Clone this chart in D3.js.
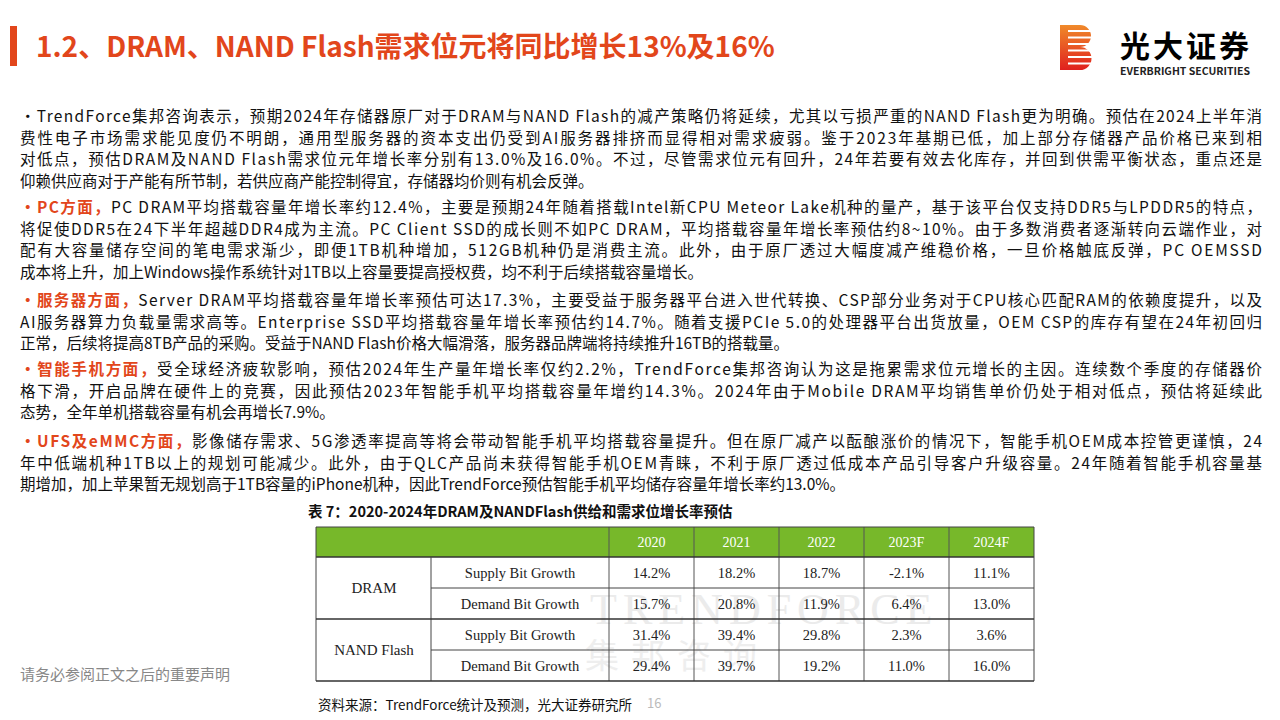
<!DOCTYPE html><html><head><meta charset="utf-8"><script src="https://cdn.jsdelivr.net/npm/d3@7"></script>
<style>body{margin:0;background:#fff}svg{display:block}</style></head><body><svg id="c" width="1280" height="720"></svg>
<script>
const title="1.2、DRAM、NAND Flash需求位元将同比增长13%及16%";
const paragraphs=[
 {head:"", lines:["•TrendForce集邦咨询表示，预期2024年存储器原厂对于DRAM与NAND Flash的减产策略仍将延续，尤其以亏损严重的NAND Flash更为明确。预估在2024上半年消","费性电子市场需求能见度仍不明朗，通用型服务器的资本支出仍受到AI服务器排挤而显得相对需求疲弱。鉴于2023年基期已低，加上部分存储器产品价格已来到相","对低点，预估DRAM及NAND Flash需求位元年增长率分别有13.0%及16.0%。不过，尽管需求位元有回升，24年若要有效去化库存，并回到供需平衡状态，重点还是","仰赖供应商对于产能有所节制，若供应商产能控制得宜，存储器均价则有机会反弹。"]},
 {head:"•PC方面，", lines:["PC DRAM平均搭载容量年增长率约12.4%，主要是预期24年随着搭载Intel新CPU Meteor Lake机种的量产，基于该平台仅支持DDR5与LPDDR5的特点，","将促使DDR5在24下半年超越DDR4成为主流。PC Client SSD的成长则不如PC DRAM，平均搭载容量年增长率预估约8~10%。由于多数消费者逐渐转向云端作业，对","配有大容量储存空间的笔电需求渐少，即便1TB机种增加，512GB机种仍是消费主流。此外，由于原厂透过大幅度减产维稳价格，一旦价格触底反弹，PC OEMSSD","成本将上升，加上Windows操作系统针对1TB以上容量要提高授权费，均不利于后续搭载容量增长。"]},
 {head:"•服务器方面，", lines:["Server DRAM平均搭载容量年增长率预估可达17.3%，主要受益于服务器平台进入世代转换、CSP部分业务对于CPU核心匹配RAM的依赖度提升，以及","AI服务器算力负载量需求高等。Enterprise SSD平均搭载容量年增长率预估约14.7%。随着支援PCIe 5.0的处理器平台出货放量，OEM CSP的库存有望在24年初回归","正常，后续将提高8TB产品的采购。受益于NAND Flash价格大幅滑落，服务器品牌端将持续推升16TB的搭载量。"]},
 {head:"•智能手机方面，", lines:["受全球经济疲软影响，预估2024年生产量年增长率仅约2.2%，TrendForce集邦咨询认为这是拖累需求位元增长的主因。连续数个季度的存储器价","格下滑，开启品牌在硬件上的竞赛，因此预估2023年智能手机平均搭载容量年增约14.3%。2024年由于Mobile DRAM平均销售单价仍处于相对低点，预估将延续此","态势，全年单机搭载容量有机会再增长7.9%。"]},
 {head:"•UFS及eMMC方面，", lines:["影像储存需求、5G渗透率提高等将会带动智能手机平均搭载容量提升。但在原厂减产以酝酿涨价的情况下，智能手机OEM成本控管更谨慎，24","年中低端机种1TB以上的规划可能减少。此外，由于QLC产品尚未获得智能手机OEM青睐，不利于原厂透过低成本产品引导客户升级容量。24年随着智能手机容量基","期增加，加上苹果暂无规划高于1TB容量的iPhone机种，因此TrendForce预估智能手机平均储存容量年增长率约13.0%。"]}
];
const paraStartY=[122,213,306,375,447];
const years=["2020","2021","2022","2023F","2024F"];
const groups=["DRAM","NAND Flash"];
const metrics=["Supply Bit Growth","Demand Bit Growth"];
const dramSupply=["14.2%","18.2%","18.7%","-2.1%","11.1%"];
const dramDemand=["15.7%","20.8%","11.9%","6.4%","13.0%"];
const nandSupply=["31.4%","39.4%","29.8%","2.3%","3.6%"];
const nandDemand=["29.4%","39.7%","19.2%","11.0%","16.0%"];
const rows=[dramSupply,dramDemand,nandSupply,nandDemand];

const svg=d3.select("#c");
const red="#e2461b", sans="'Noto Sans CJK SC','Noto Sans',sans-serif", serif="'Liberation Serif','DejaVu Serif',serif";
svg.append("rect").attr("x",10).attr("y",26).attr("width",7).attr("height",40).attr("fill",red);
svg.append("text").attr("x",36).attr("y",57).attr("font-family",sans).attr("font-weight","bold").attr("font-size",28).attr("fill",red).text(title);
const lg=svg.append("g");
const grad=svg.append("defs").append("linearGradient").attr("id","lgG").attr("x1",0).attr("y1",0).attr("x2",0).attr("y2",1);
grad.append("stop").attr("offset",0).attr("stop-color","#f08a2a");grad.append("stop").attr("offset",1).attr("stop-color","#e0201e");
lg.append("path").attr("d","M1060,25 h20 a10,10 0 0 1 0,22 a10,10 0 0 1 0,23 h-20 z").attr("fill","url(#lgG)");
d3.range(6).forEach(i=>lg.append("rect").attr("x",1068).attr("y",30+i*6.5).attr("width",30).attr("height",2).attr("fill","#fff"));
lg.append("text").attr("x",1120).attr("y",57).attr("font-family",sans).attr("font-weight","bold").attr("font-size",30).attr("letter-spacing",3).text("光大证券");
lg.append("text").attr("x",1120).attr("y",75).attr("font-family",sans).attr("font-size",10.5).attr("font-weight","bold").attr("fill","#222").text("EVERBRIGHT SECURITIES");

const L=20,R=1262,lh=21.6,fs=15.5;
paragraphs.forEach((p,pi)=>{
  p.lines.forEach((ln,li)=>{
    const y=paraStartY[pi]+li*lh;
    const last=li===p.lines.length-1;
    const t=svg.append("text").attr("x",L).attr("y",y).attr("font-family",sans).attr("font-size",fs).attr("fill","#111");
    if(!last) t.attr("textLength",R-L).attr("lengthAdjust","spacing");
    if(li===0&&p.head) t.append("tspan").attr("fill",red).attr("font-weight","bold").text(p.head);
    t.append("tspan").text(ln);
  });
});

svg.append("text").attr("x",308).attr("y",517).attr("font-family",sans).attr("font-weight","bold").attr("font-size",14.5).attr("fill","#111").text("表 7：2020-2024年DRAM及NANDFlash供给和需求位增长率预估");
const x=d3.scaleBand().domain(years).range([609,1034]);
const y=d3.scaleBand().domain(d3.range(4)).range([557,681]);
const T=527;
svg.append("rect").attr("x",316).attr("y",T).attr("width",718).attr("height",30).attr("fill","#77b82a");
svg.append("text").attr("x",590).attr("y",624).attr("font-family",serif).attr("font-size",44).attr("fill","#ebebeb").attr("letter-spacing",6).text("TRENDFORCE");
svg.append("text").attr("x",585).attr("y",668).attr("font-family",sans).attr("font-size",34).attr("fill","#eeeeee").attr("letter-spacing",12).text("集邦咨询");
const ln=(x1,y1,x2,y2,c="#444",w=1)=>svg.append("line").attr("x1",x1).attr("y1",y1).attr("x2",x2).attr("y2",y2).attr("stroke",c).attr("stroke-width",w);
years.forEach(yr=>{
  svg.append("text").attr("x",x(yr)+x.bandwidth()/2).attr("y",T+20).attr("text-anchor","middle").attr("font-family",serif).attr("font-size",14).attr("fill","#fff").text(yr);
  ln(x(yr),T,x(yr),681,"#555");
});
ln(316,T,1034,T);ln(316,557,1034,557,"#333",1.5);ln(1034,T,1034,681);ln(316,T,316,681);ln(431,557,431,681);
ln(431,y(1),1034,y(1));ln(316,y(2),1034,y(2),"#333",1.5);ln(431,y(3),1034,y(3));ln(316,681,1034,681,"#333",1.5);
groups.forEach((g,gi)=>svg.append("text").attr("x",374).attr("y",y(gi*2+1)+5).attr("text-anchor","middle").attr("font-family",serif).attr("font-size",15).attr("fill","#222").text(g));
rows.forEach((r,ri)=>{
  const cy=y(ri)+y.bandwidth()/2+5;
  svg.append("text").attr("x",520).attr("y",cy).attr("text-anchor","middle").attr("font-family",serif).attr("font-size",14.5).attr("fill","#222").text(metrics[ri%2]);
  r.forEach((v,ci)=>svg.append("text").attr("x",x(years[ci])+x.bandwidth()/2).attr("y",cy).attr("text-anchor","middle").attr("font-family",serif).attr("font-size",14.5).attr("fill","#222").text(v));
});
svg.append("text").attr("x",318).attr("y",710).attr("font-family",sans).attr("font-size",13.5).attr("fill","#111").text("资料来源：TrendForce统计及预测，光大证券研究所");
svg.append("text").attr("x",647).attr("y",708).attr("font-family",sans).attr("font-size",13).attr("fill","#bbb").text("16");
svg.append("text").attr("x",20).attr("y",680).attr("font-family",sans).attr("font-size",15).attr("fill","#888").text("请务必参阅正文之后的重要声明");
</script></body></html>
